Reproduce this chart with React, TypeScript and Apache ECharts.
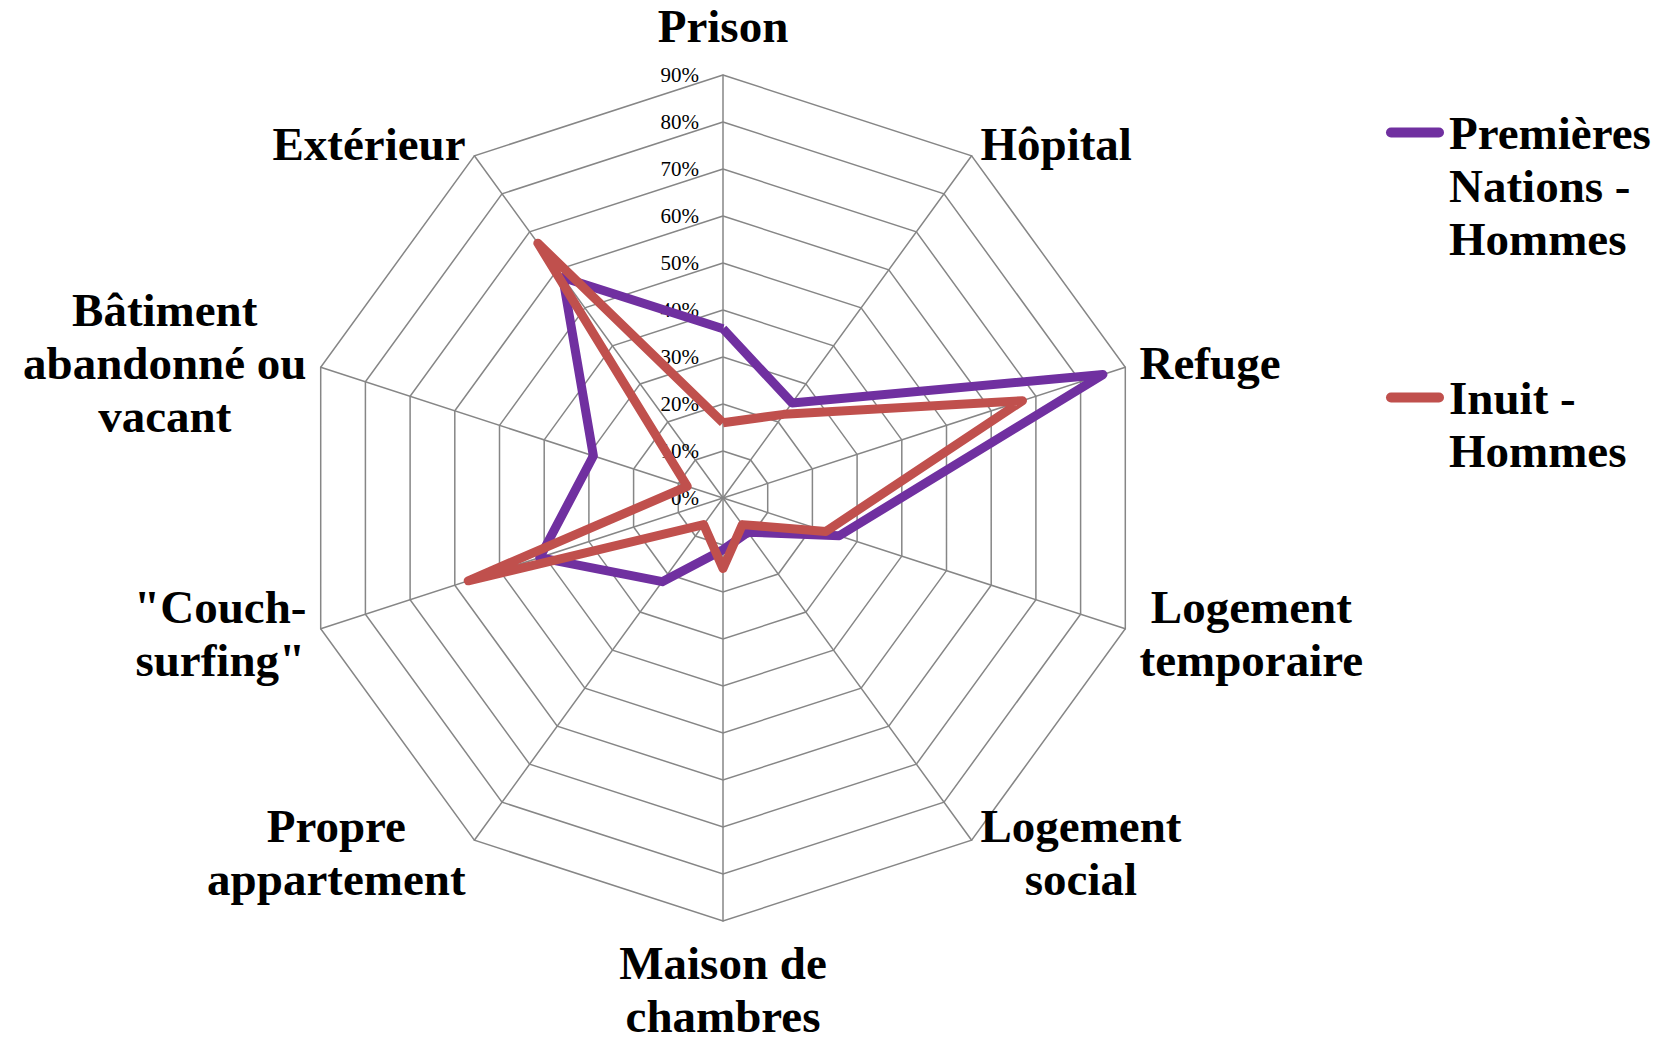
import React, { useEffect, useRef } from 'react';
import * as echarts from 'echarts';

// Indicators in ECharts order (counter-clockwise from the top)
const indicatorNames = [
  'Prison',
  'Extérieur',
  'Bâtiment\nabandonné ou\nvacant',
  '"Couch-\nsurfing"',
  'Propre\nappartement',
  'Maison de\nchambres',
  'Logement\nsocial',
  'Logement\ntemporaire',
  'Refuge',
  'Hôpital',
];
const premieresNationsHommes = [36, 58, 29, 41, 22, 11, 9, 26, 85, 25];
const inuitHommes = [16, 67, 8, 57, 7, 15, 7, 23, 67, 22];
const seriesNames = ['Premières Nations - Hommes', 'Inuit - Hommes'];
const legendLabels = ['Premières\nNations -\nHommes', 'Inuit -\nHommes'];
const seriesColors = ['#7030A0', '#C0504D'];
const axisMax = 90;
const splitCount = 9;

const FONT = '"Liberation Serif", "Times New Roman", serif';

export default function App() {
  const ref = useRef<HTMLDivElement>(null);
  useEffect(() => {
    if (!ref.current) return;
    const chart = echarts.init(ref.current, undefined, { renderer: 'svg' });
    const nameStyle = {
      color: '#000',
      fontFamily: FONT,
      fontWeight: 'bold' as const,
      fontSize: 47,
      lineHeight: 53,
    };
    chart.setOption({
      animation: false,
      backgroundColor: '#fff',
      legend: {
        orient: 'vertical',
        left: 1386,
        top: 0,
        padding: 0,
        itemGap: 53,
        itemWidth: 58,
        itemHeight: 10,
        icon: 'path://M5 0L53 0A5 5 0 0 1 53 10L5 10A5 5 0 0 1 5 0Z',
        textStyle: { ...nameStyle },
        formatter: (name: string) => {
          const label = legendLabels[seriesNames.indexOf(name)];
          const n = label.split('\n').length;
          return '\n'.repeat(n - 1) + label;
        },
        data: seriesNames,
      },
      radar: {
        center: [723, 498],
        radius: 423,
        startAngle: 90,
        shape: 'polygon',
        splitNumber: splitCount,
        nameGap: 15,
        indicator: indicatorNames.map((name, i) => ({
          name,
          min: 0,
          max: axisMax,
          ...(i === 0 ? { axisLabel: { show: true }, nameGap: 26 } : {}),
        })),
        axisName: {
          ...nameStyle,
          formatter: (n: string) => {
            const lines = n.split('\n');
            const st = lines.length > 1 ? 'c' : 's';
            return lines.map((l) => `{${st}|${l}}`).join('\n');
          },
          rich: {
            c: { ...nameStyle, align: 'center' },
            s: { ...nameStyle, lineHeight: 46, align: 'center' },
          },
        },
        splitLine: { lineStyle: { color: '#868686', width: 1.5 } },
        splitArea: { show: false },
        axisLine: { lineStyle: { color: '#868686', width: 1.5 } },
        axisTick: { show: false },
        axisLabel: {
          show: false,
          formatter: '{value}%',
          fontFamily: FONT,
          fontSize: 21,
          color: '#000',
          margin: 24,
        },
      },
      series: [
        {
          type: 'radar',
          symbol: 'none',
          data: [
            {
              name: seriesNames[0],
              value: premieresNationsHommes,
              lineStyle: { color: seriesColors[0], width: 9 },
              itemStyle: { color: seriesColors[0] },
            },
            {
              name: seriesNames[1],
              value: inuitHommes,
              lineStyle: { color: seriesColors[1], width: 9 },
              itemStyle: { color: seriesColors[1] },
            },
          ],
        },
      ],
    });
    return () => chart.dispose();
  }, []);
  return (
    <div
      ref={ref}
      style={{ position: 'fixed', left: 0, top: 0, width: 1665, height: 1040, background: '#fff' }}
    />
  );
}
